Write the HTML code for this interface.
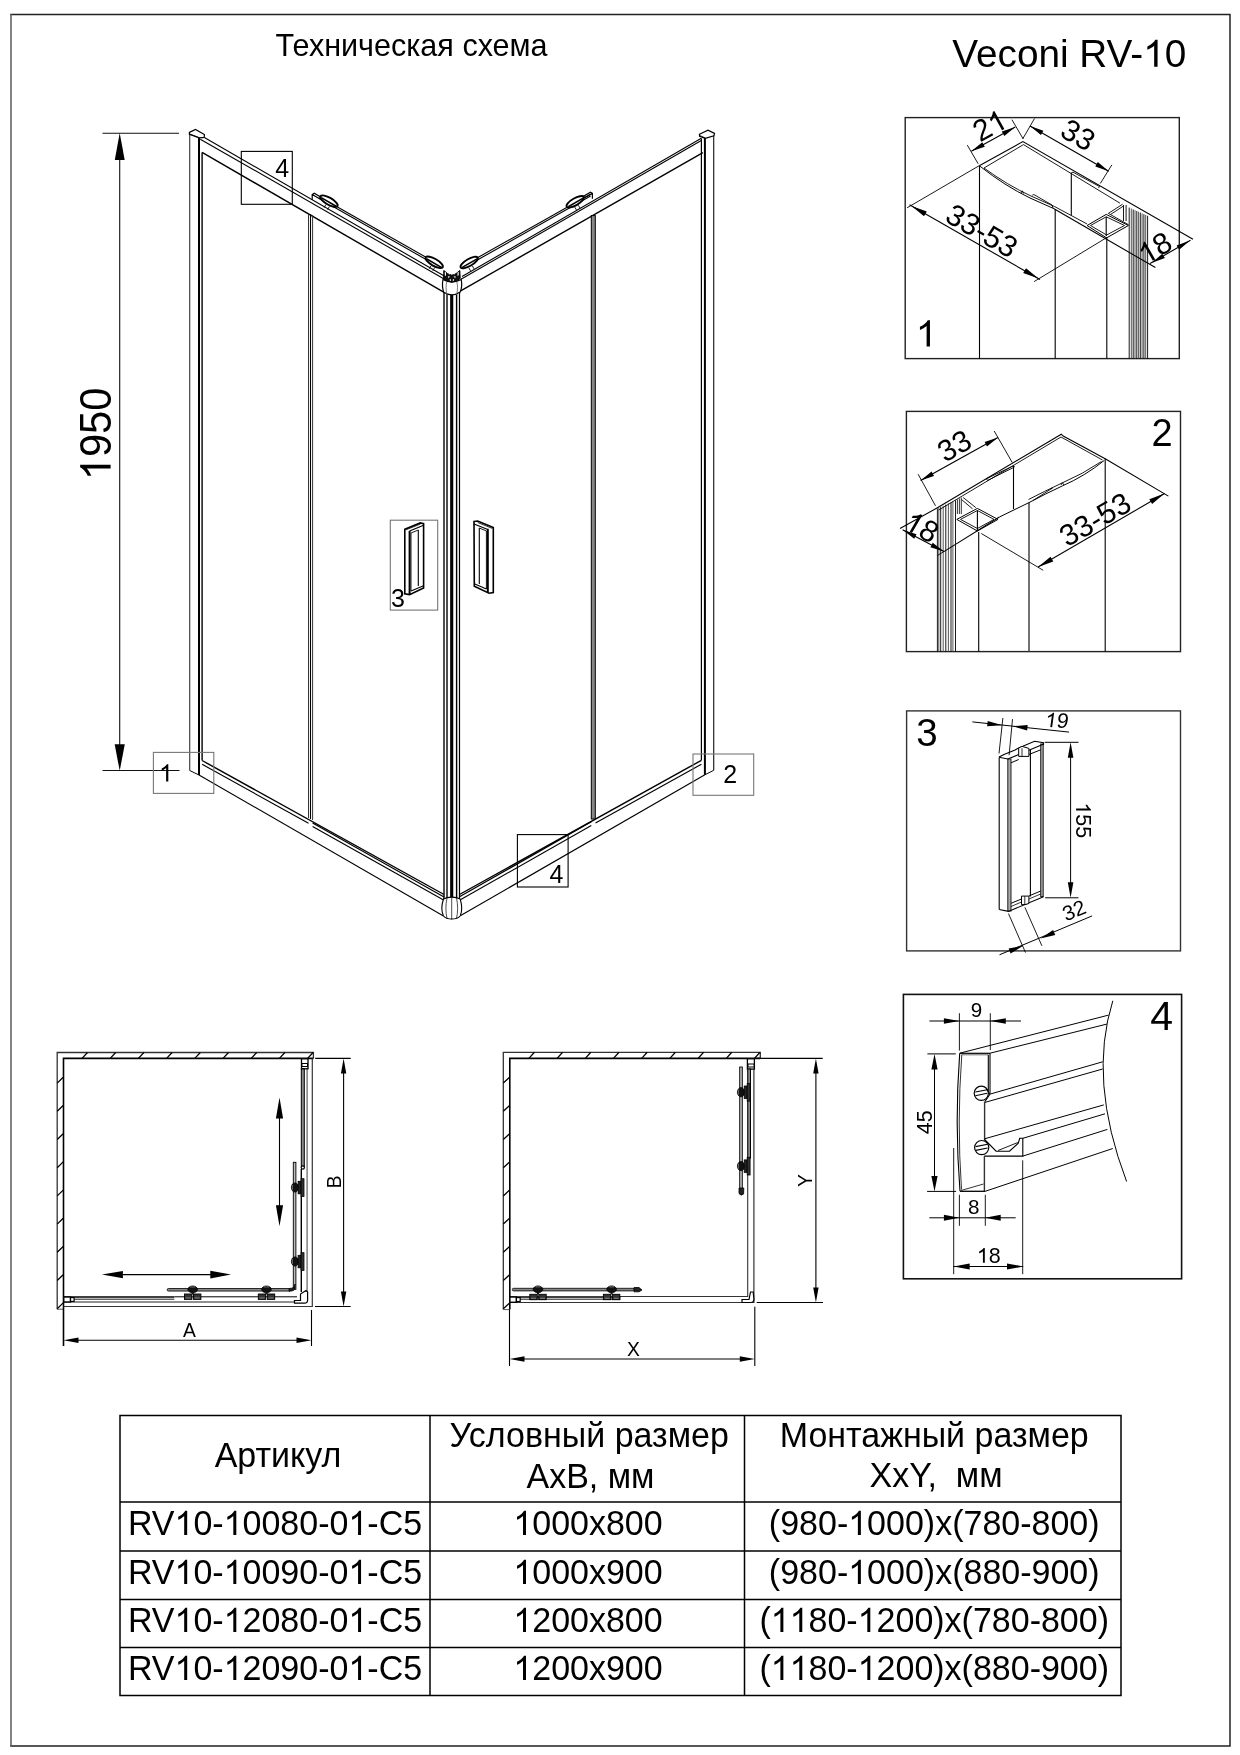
<!DOCTYPE html>
<html><head><meta charset="utf-8">
<style>
html,body{margin:0;padding:0;background:#fff;}
body{width:1240px;height:1755px;overflow:hidden;}
svg{display:block;will-change:transform;}
text{font-family:"Liberation Sans",sans-serif;fill:#000;}
</style></head><body>
<svg width="1240" height="1755" viewBox="0 0 1240 1755" fill="none" stroke="#000" stroke-width="1">
<!-- page border -->
<path d="M10.3,14.5 L1230.7,14.5 M1230,14 L1230,1746.5 M10.3,1746 L1230.7,1746" stroke="#222" stroke-width="1.5"/>
<path d="M11,14 L11,1746.5" stroke="#5a5a5a" stroke-width="1.5"/>
<!-- titles -->
<text transform="translate(275.6,56) scale(0.9555,1)" font-size="32" stroke="none" id="t1">Техническая схема</text>
<text transform="translate(952.3,66.8) scale(0.988,1)" font-size="39.2" stroke="none" id="t2">Veconi RV- 0</text>

<!-- MAIN DRAWING -->
<g id="dim1950" stroke="#111" stroke-width="1.1">
<line x1="102.5" y1="133.3" x2="179" y2="133.3"/>
<line x1="102.5" y1="770.5" x2="179.5" y2="770.5"/>
<line x1="119.7" y1="150" x2="119.7" y2="760"/>
<path d="M119.7,133 L114.8,160 L124.7,160 Z" fill="#000" stroke="none"/>
<path d="M119.7,770.8 L114.7,744.3 L124.8,744.3 Z" fill="#000" stroke="none"/>
</g>
<text transform="translate(110.6,480.3) rotate(-90) scale(0.942,1)" font-size="44.3" stroke="none"> 950</text>

<g id="posts" stroke="#000">
<!-- left post -->
<line x1="189.7" y1="133" x2="189.7" y2="770.5" stroke="#444" stroke-width="1.2"/>
<line x1="199" y1="137.5" x2="199" y2="775" stroke-width="2"/>
<line x1="202.1" y1="152.5" x2="202.1" y2="760.5" stroke-width="1.4"/>
<line x1="189.7" y1="770.5" x2="199" y2="775" stroke-width="1"/>
<path d="M189.4,132.4 L195.5,129.5 L204.4,134.6 L204.2,137.4 L199.4,137.9 L189.4,134.3 Z" stroke-width="1.2" fill="#fff"/>
<line x1="190" y1="134" x2="199.4" y2="137.9" stroke-width="0.8"/>
<!-- right post -->
<line x1="701.4" y1="138.5" x2="701.4" y2="760.3" stroke-width="1.2"/>
<line x1="704.9" y1="138" x2="704.9" y2="774.8" stroke-width="2"/>
<line x1="713.7" y1="135" x2="713.7" y2="770.3" stroke="#222" stroke-width="1.2"/>
<line x1="704.9" y1="774.8" x2="713.7" y2="770.3" stroke-width="1"/>
<path d="M699.4,134.2 L708,130.2 L714.5,133.4 L713.9,135.8 L705.3,138.4 L699.6,136.2 Z" stroke-width="1.2" fill="#fff"/>
<line x1="700" y1="135.6" x2="705.3" y2="138" stroke-width="0.8"/>
<!-- corner post -->
<line x1="444" y1="292" x2="444" y2="899" stroke="#222" stroke-width="1.6"/>
<line x1="447" y1="293" x2="447" y2="899" stroke="#222" stroke-width="1.6"/>
<line x1="451.7" y1="293" x2="451.7" y2="899" stroke-width="3.1"/>
<line x1="456.6" y1="293" x2="456.6" y2="899" stroke-width="1.4"/>
<line x1="459.5" y1="292" x2="459.5" y2="899" stroke-width="1.2"/>
</g>

<g id="rails" stroke="#000" stroke-width="1.1">
<!-- top-left rail -->
<line x1="204.4" y1="137.6" x2="446" y2="277"/>
<line x1="200.3" y1="139.2" x2="445" y2="279.5"/>
<line x1="202.1" y1="152.4" x2="443.7" y2="292.1" stroke-width="1.4"/>
<line x1="319" y1="196.4" x2="437" y2="263.5"/>
<line x1="319" y1="198.6" x2="437" y2="265.7"/>
<!-- top-right rail -->
<line x1="701.3" y1="138.3" x2="462" y2="276.6"/>
<line x1="701.3" y1="140.6" x2="461" y2="279.3"/>
<line x1="702.9" y1="152.7" x2="460.2" y2="291.1" stroke-width="1.4"/>
<line x1="590.6" y1="193.9" x2="468" y2="263.1"/>
<line x1="590.6" y1="196.1" x2="468" y2="265.3"/>
<!-- bottom-left rail -->
<line x1="202.1" y1="760.5" x2="444" y2="894.5" stroke-width="1.4"/>
<line x1="202.1" y1="764.3" x2="308.5" y2="823.2"/>
<line x1="312.6" y1="822.9" x2="444" y2="896.9" stroke-width="1.2"/>
<line x1="312.6" y1="826.5" x2="444" y2="900.3"/>
<line x1="199" y1="775" x2="443.5" y2="916"/>
<!-- bottom-right rail -->
<line x1="701.4" y1="760.3" x2="459.5" y2="894.5" stroke-width="1.4"/>
<line x1="701.4" y1="764.3" x2="595.5" y2="823"/>
<line x1="591.3" y1="821.8" x2="459.5" y2="896.8" stroke-width="1.2"/>
<line x1="591.3" y1="825.6" x2="459.5" y2="900.3"/>
<line x1="704.9" y1="774.8" x2="460.7" y2="915.5"/>
</g>

<g id="doors" stroke="#000">
<line x1="308.5" y1="214" x2="308.5" y2="818" stroke="#333" stroke-width="1"/>
<line x1="310.5" y1="214" x2="310.5" y2="819" stroke-width="1.1"/>
<line x1="312.6" y1="215" x2="312.6" y2="820" stroke="#333" stroke-width="1"/>
<rect x="591.3" y="215.6" width="4" height="603.4" fill="#888" stroke-width="1"/>
</g>

<g id="rollers" stroke="#000" stroke-width="1.9" fill="#fff">
<!-- brackets -->
<path d="M312.2,199.8 L312.2,194.6 L314.2,193.3 L321.2,197.3 M312.2,194.6 L319.2,198.6 L321.2,197.3" stroke-width="1.2" fill="none"/>
<path d="M592.4,198.8 L592.4,193.4 L590.4,192.2 L583.4,196.2 M592.4,193.4 L585.4,197.4 L583.4,196.2" stroke-width="1.2" fill="none"/>
<g transform="translate(329,201.2) rotate(30)"><ellipse rx="9.8" ry="3.5"/><line x1="-8.5" y1="0.8" x2="9.2" y2="0.8" stroke-width="1.5"/><line x1="-1" y1="4.6" x2="-1" y2="8" stroke-width="0.8"/><line x1="3" y1="4.4" x2="3" y2="8" stroke-width="0.8"/></g>
<g transform="translate(434.2,262.3) rotate(30)"><ellipse rx="9.8" ry="3.5"/><line x1="-8.5" y1="0.8" x2="9.2" y2="0.8" stroke-width="1.5"/><line x1="-1" y1="4.6" x2="-1" y2="8" stroke-width="0.8"/><line x1="3" y1="4.4" x2="3" y2="8" stroke-width="0.8"/></g>
<g transform="translate(469.2,262.5) rotate(-30)"><ellipse rx="9.8" ry="3.5"/><line x1="-8.5" y1="0.8" x2="9.2" y2="0.8" stroke-width="1.5"/><line x1="1" y1="4.6" x2="1" y2="8" stroke-width="0.8"/><line x1="-3" y1="4.4" x2="-3" y2="8" stroke-width="0.8"/></g>
<g transform="translate(575.2,201.8) rotate(-30)"><ellipse rx="9.8" ry="3.5"/><line x1="-8.5" y1="0.8" x2="9.2" y2="0.8" stroke-width="1.5"/><line x1="1" y1="4.6" x2="1" y2="8" stroke-width="0.8"/><line x1="-3" y1="4.4" x2="-3" y2="8" stroke-width="0.8"/></g>
</g>

<g id="cornercaps" stroke="#000" stroke-width="1.1" fill="#fff">
<!-- top corner junction -->
<path d="M443.7,292.2 C442.2,288 442.2,283.5 443,279.5 Q451.5,284.5 461.2,279.5 C462,283.5 462,288 460.2,292 Q451.8,297.5 443.7,292.2 Z" stroke-width="1.2"/>
<path d="M447,295 C445.8,290 445.8,285 446.8,281.5 M456.5,295 C457.8,290 457.8,285 456.8,281.5" stroke-width="0.8" stroke="#555"/>
<path d="M443.8,270.5 Q447.5,274.5 451.8,275.2 Q456,274.5 459.8,270.5 L460.2,278.5 Q456,281.8 451.8,282.3 Q447.5,281.8 443.6,278.5 Z" fill="#111" stroke="#000" stroke-width="1"/>
<path d="M448.9,272.9 l1.3,0.5 l-0.3,1.2 l-1.2,-0.5 Z M453.4,273.4 l1.3,-0.5 l0.3,1.2 l-1.3,0.5 Z M448.2,276 l1.8,0.8 l-1.8,1.5 Z M455.4,276 l-1.8,0.8 l1.8,1.5 Z M449.8,279 l1.2,0.6 l0,1.5 l-1.2,-0.5 Z M452.8,279.6 l1.2,-0.6 l0,1.6 l-1.2,0.5 Z M457.5,272.5 l1.2,-0.7 l0,3.5 l-1.2,0.6 Z M444.8,271.8 l1.2,0.7 l0,3.4 l-1.2,-0.6 Z" fill="#fff" stroke="none"/>
<!-- bottom foot -->
<path d="M443.5,899 C441.5,905 441.5,912 443.5,916 C447,920 456.5,920 460.2,916 C462,912 462,905 460.2,899 C456,896.5 447.5,896.5 443.5,899 Z"/>
<path d="M447,898 C445.5,905 445.5,912 447,918.5 M451.7,898 L451.7,919.5 M456.5,898 C458,905 458,912 456.5,918.5" stroke-width="0.7"/>
</g>

<g id="handles" stroke="#000" fill="#fff">
<!-- left handle -->
<path d="M404.8,529.2 L420.3,522.9 L423.6,523.6 L423.6,588 L409.6,594.6 L404.8,593.9 Z" stroke-width="1.6"/>
<line x1="409.6" y1="531" x2="409.6" y2="594.4" stroke-width="2"/>
<line x1="411" y1="533" x2="411" y2="591" stroke-width="0.9"/>
<line x1="418.3" y1="530" x2="418.3" y2="586" stroke-width="1.1"/>
<line x1="409.6" y1="531" x2="423.6" y2="525.3" stroke-width="1.2"/>
<line x1="406" y1="529.8" x2="420.5" y2="524" stroke-width="0.8"/>
<line x1="411" y1="533" x2="418.3" y2="530" stroke-width="0.9"/>
<line x1="411" y1="591" x2="423.6" y2="585.8" stroke-width="1.1"/>
<!-- right handle -->
<path d="M474,521.5 L477.7,521 L493.3,527.6 L493.3,592.6 L489,593.2 L474.3,586.3 Z" stroke-width="1.6"/>
<line x1="487.8" y1="528.8" x2="487.8" y2="592.5" stroke-width="2"/>
<line x1="486.4" y1="531" x2="486.4" y2="589" stroke-width="0.9"/>
<line x1="479.3" y1="528" x2="479.3" y2="584" stroke-width="1.1"/>
<line x1="474" y1="524" x2="487.8" y2="529.5" stroke-width="1.2"/>
<line x1="477.7" y1="522.5" x2="492.5" y2="528.5" stroke-width="0.8"/>
<line x1="479.3" y1="528" x2="486.4" y2="531" stroke-width="0.9"/>
<line x1="474.3" y1="583.8" x2="486.4" y2="589" stroke-width="1.1"/>
</g>

<g id="labels" stroke-width="1.1" fill="none">
<rect x="241.3" y="151.4" width="51" height="52.9" stroke="#000"/>
<rect x="390.3" y="520.2" width="47.4" height="89.9" stroke="#777"/>
<rect x="153.4" y="752.4" width="60.4" height="41" stroke="#777"/>
<rect x="693" y="754" width="60.7" height="41.3" stroke="#777"/>
<rect x="517.4" y="834.6" width="50.7" height="52.4" stroke="#000"/>
</g>
<g font-size="25" stroke="none">
<text x="275.3" y="176.8">4</text>
<text x="391" y="606.8">3</text>
<text x="159" y="781.5"> </text>
<text x="723.2" y="782.9">2</text>
<text x="549.5" y="882.5">4</text>
</g>

<!-- PLAN VIEW 1 -->
<g id="plan1">
<path d="M57.2,1309.2 L57.2,1052.5 L313.4,1052.5 L313.4,1058.4" stroke="#333" stroke-width="1.3"/>
<path d="M57.2,1309.2 L63.5,1309.2" stroke="#555" stroke-width="1"/>
<path d="M63.5,1346 L63.5,1058.4 L313.4,1058.4" stroke="#000" stroke-width="1.6"/>
<path stroke="#000" stroke-width="1.3" d="M82,1058.4 l5.5,-5.9 M110.2,1058.4 l5.5,-5.9 M138.4,1058.4 l5.5,-5.9 M166.6,1058.4 l5.5,-5.9 M194.8,1058.4 l5.5,-5.9 M223,1058.4 l5.5,-5.9 M251.2,1058.4 l5.5,-5.9 M279.4,1058.4 l5.5,-5.9 M307.6,1058.4 l5.5,-5.9
M57.2,1083.1 l6,-5.8 M57.2,1111.3 l6,-5.8 M57.2,1139.5 l6,-5.8 M57.2,1167.7 l6,-5.8 M57.2,1195.9 l6,-5.8 M57.2,1224.1 l6,-5.8 M57.2,1252.3 l6,-5.8 M57.2,1280.5 l6,-5.8 M57.2,1308.7 l6,-5.8"/>
<!-- interior frame -->
<path d="M63.5,1306.5 L312.3,1306.5 L312.3,1058.4" stroke="#333" stroke-width="1.2"/>
<line x1="307.1" y1="1069" x2="307.1" y2="1302" stroke="#777" stroke-width="1.4"/>
<line x1="63.8" y1="1302" x2="300" y2="1302" stroke="#222" stroke-width="1.1"/>
<!-- fixed right panel -->
<rect x="301.5" y="1058.8" width="6.5" height="10" stroke="#000" stroke-width="1.3" fill="#fff"/>
<rect x="302" y="1063.5" width="5.5" height="3" stroke="#000" stroke-width="1" fill="#fff"/>
<rect x="301.3" y="1069" width="3" height="98" stroke="#000" stroke-width="1" fill="#888"/>
<circle cx="302.8" cy="1167.5" r="1.6" fill="#fff" stroke="#000" stroke-width="1.2"/>
<line x1="301.3" y1="1169" x2="301.3" y2="1292" stroke="#000" stroke-width="1.4"/>
<!-- sliding right panel -->
<rect x="293.3" y="1162.3" width="2.6" height="127" stroke="#000" stroke-width="0.9" fill="#bbb"/>
<g><ellipse cx="295" cy="1187.5" rx="3.6" ry="4.6" fill="#111" stroke="#000" stroke-width="0.8"/><line x1="292.4" y1="1185.0" x2="292.4" y2="1190.0" stroke="#aaa" stroke-width="0.6"/><rect x="298.1" y="1181.3" width="3" height="12.5" fill="#222" stroke="#000" stroke-width="0.8"/><rect x="301.1" y="1178.7" width="2.9" height="17.7" fill="#333" stroke="#000" stroke-width="0.8"/><ellipse cx="295" cy="1261.5" rx="3.6" ry="4.6" fill="#111" stroke="#000" stroke-width="0.8"/><line x1="292.4" y1="1259.0" x2="292.4" y2="1264.0" stroke="#aaa" stroke-width="0.6"/><rect x="298.1" y="1255.3" width="3" height="12.5" fill="#222" stroke="#000" stroke-width="0.8"/><rect x="301.1" y="1252.7" width="2.9" height="17.7" fill="#333" stroke="#000" stroke-width="0.8"/></g>
<!-- fixed bottom panel -->
<line x1="63.8" y1="1297" x2="174.3" y2="1297" stroke="#000" stroke-width="1.7"/>
<line x1="74" y1="1299.2" x2="174.3" y2="1299.2" stroke="#000" stroke-width="0.9"/>
<rect x="63.8" y="1297" width="6.7" height="5" stroke="#000" stroke-width="1.4" fill="#fff"/>
<rect x="70.5" y="1297.6" width="3.6" height="3.8" stroke="#000" stroke-width="1.2" fill="#fff"/>
<line x1="174.3" y1="1296.8" x2="297" y2="1296.8" stroke="#000" stroke-width="1"/>
<!-- sliding bottom panel -->
<rect x="167.2" y="1288.5" width="123" height="2.6" stroke="#000" stroke-width="0.8" fill="#888" rx="1.2"/>
<path d="M289,1288.5 Q295,1288.5 295,1284 L295,1288 Q295,1291.2 289,1291.2 Z" fill="#222" stroke="#000" stroke-width="0.8"/>
<g><ellipse cx="192.7" cy="1289.4" rx="4.8" ry="3.4" fill="#111" stroke="#000" stroke-width="0.8"/><line x1="190.2" y1="1287.0" x2="195.2" y2="1287.0" stroke="#aaa" stroke-width="0.6"/><rect x="191.7" y="1292.4" width="2" height="2" fill="#111" stroke="none"/><rect x="184.5" y="1294" width="7.4" height="5.4" fill="#333" stroke="#000" stroke-width="0.9"/><rect x="193.5" y="1294" width="7.4" height="5.4" fill="#333" stroke="#000" stroke-width="0.9"/><line x1="185.7" y1="1298" x2="190.7" y2="1298" stroke="#999" stroke-width="0.8"/><line x1="194.7" y1="1298" x2="199.7" y2="1298" stroke="#999" stroke-width="0.8"/><ellipse cx="266.5" cy="1289.4" rx="4.8" ry="3.4" fill="#111" stroke="#000" stroke-width="0.8"/><line x1="264.0" y1="1287.0" x2="269.0" y2="1287.0" stroke="#aaa" stroke-width="0.6"/><rect x="265.5" y="1292.4" width="2" height="2" fill="#111" stroke="none"/><rect x="258.3" y="1294" width="7.4" height="5.4" fill="#333" stroke="#000" stroke-width="0.9"/><rect x="267.3" y="1294" width="7.4" height="5.4" fill="#333" stroke="#000" stroke-width="0.9"/><line x1="259.5" y1="1298" x2="264.5" y2="1298" stroke="#999" stroke-width="0.8"/><line x1="268.5" y1="1298" x2="273.5" y2="1298" stroke="#999" stroke-width="0.8"/></g>
<!-- corner piece -->
<path d="M294.5,1303.2 L294.5,1300.5 L300.5,1300.5 L300.5,1294 L306,1290.5 L307.6,1292 L307.6,1300 Q307.6,1303.2 304.5,1303.2 Z" stroke="#000" stroke-width="1.2" fill="#fff"/>
<!-- direction arrows -->
<g stroke="#000" stroke-width="1.1">
<line x1="115" y1="1274.6" x2="218" y2="1274.6"/>
<line x1="279.5" y1="1110" x2="279.5" y2="1212"/>
</g>
<path d="M101.9,1274.6 L122.9,1270.9 L122.9,1278.3 Z M231,1274.6 L210.3,1270.7 L210.3,1278.5 Z M279.5,1097.4 L275.9,1118.4 L283.1,1118.4 Z M279.5,1226.2 L275.9,1205.2 L283.1,1205.2 Z" fill="#000" stroke="none"/>
<!-- dimensions -->
<g stroke="#000" stroke-width="1.1">
<line x1="315.2" y1="1058.4" x2="350.7" y2="1058.4"/>
<line x1="315" y1="1306.5" x2="350.7" y2="1306.5"/>
<line x1="343.6" y1="1065" x2="343.6" y2="1300"/>
<line x1="311.5" y1="1310" x2="311.5" y2="1346"/>
<line x1="70" y1="1340.2" x2="305" y2="1340.2"/>
</g>
<path d="M343.6,1058.4 L340.9,1073.4 L346.3,1073.4 Z M343.6,1306.5 L340.9,1291.5 L346.3,1291.5 Z M63.5,1340.2 L78.5,1337.5 L78.5,1342.9 Z M311.5,1340.2 L296.5,1337.5 L296.5,1342.9 Z" fill="#000" stroke="none"/>
<text x="189.5" y="1336.7" font-size="19.3" text-anchor="middle" stroke="none">A</text>
<text transform="translate(340.9,1188.2) rotate(-90)" font-size="19.3" stroke="none">B</text>
</g>

<!-- PLAN VIEW 2 -->
<g id="plan2">
<path d="M503.3,1309.6 L503.3,1052.3 L760.3,1052.3 L760.3,1058.4" stroke="#333" stroke-width="1.3"/>
<path d="M503.3,1309.6 L509.8,1309.6" stroke="#555" stroke-width="1"/>
<path d="M509.8,1309.6 L509.8,1058.4 L760.3,1058.4" stroke="#000" stroke-width="1.6"/>
<path stroke="#000" stroke-width="1.3" d="M528.9,1058.4 l5.5,-6.1 M557.1,1058.4 l5.5,-6.1 M585.3,1058.4 l5.5,-6.1 M613.5,1058.4 l5.5,-6.1 M641.7,1058.4 l5.5,-6.1 M669.9,1058.4 l5.5,-6.1 M698.1,1058.4 l5.5,-6.1 M726.3,1058.4 l5.5,-6.1 M754.5,1058.4 l5.5,-6.1
M503.3,1083.1 l6.3,-5.8 M503.3,1111.3 l6.3,-5.8 M503.3,1139.5 l6.3,-5.8 M503.3,1167.7 l6.3,-5.8 M503.3,1195.9 l6.3,-5.8 M503.3,1224.1 l6.3,-5.8 M503.3,1252.3 l6.3,-5.8 M503.3,1280.5 l6.3,-5.8 M503.3,1308.7 l6.3,-5.8"/>
<path d="M509.8,1302.5 L753.9,1302.5 L753.9,1058.4" stroke="#333" stroke-width="1.2"/>
<line x1="620" y1="1296.5" x2="748" y2="1296.5" stroke="#333" stroke-width="1"/>
<line x1="747.7" y1="1157" x2="747.7" y2="1297" stroke="#333" stroke-width="1.1"/>
<!-- fixed right panel -->
<rect x="747.4" y="1058.8" width="7" height="10.3" stroke="#000" stroke-width="1.3" fill="#fff"/>
<rect x="748" y="1064" width="6" height="3" stroke="#000" stroke-width="1" fill="#fff"/>
<rect x="747.7" y="1069" width="2.8" height="89" stroke="#000" stroke-width="1" fill="#888"/>
<!-- sliding right panel -->
<rect x="739.7" y="1067" width="2.6" height="122" stroke="#000" stroke-width="0.9" fill="#bbb"/>
<path d="M739,1188 L743.8,1188 L743.6,1194 Q741,1196.5 739,1193.5 Z" fill="#222" stroke="#000" stroke-width="0.8"/>
<g><ellipse cx="741" cy="1092.2" rx="3.6" ry="4.6" fill="#111" stroke="#000" stroke-width="0.8"/><line x1="738.4" y1="1089.7" x2="738.4" y2="1094.7" stroke="#aaa" stroke-width="0.6"/><rect x="744.2" y="1086.0" width="3" height="12.5" fill="#222" stroke="#000" stroke-width="0.8"/><rect x="747.2" y="1083.4" width="2.9" height="17.7" fill="#333" stroke="#000" stroke-width="0.8"/><ellipse cx="741" cy="1166.1" rx="3.6" ry="4.6" fill="#111" stroke="#000" stroke-width="0.8"/><line x1="738.4" y1="1163.6" x2="738.4" y2="1168.6" stroke="#aaa" stroke-width="0.6"/><rect x="744.2" y="1159.8999999999999" width="3" height="12.5" fill="#222" stroke="#000" stroke-width="0.8"/><rect x="747.2" y="1157.3" width="2.9" height="17.7" fill="#333" stroke="#000" stroke-width="0.8"/></g>
<!-- fixed bottom panel -->
<line x1="509.9" y1="1297" x2="620.5" y2="1297" stroke="#000" stroke-width="1.7"/>
<line x1="520" y1="1299.2" x2="620.5" y2="1299.2" stroke="#000" stroke-width="0.9"/>
<rect x="509.9" y="1297" width="6.5" height="5.3" stroke="#000" stroke-width="1.4" fill="#fff"/>
<rect x="516.4" y="1297.6" width="3.8" height="3.9" stroke="#000" stroke-width="1.2" fill="#fff"/>
<!-- sliding bottom panel -->
<rect x="512.3" y="1288.3" width="122" height="2.6" stroke="#000" stroke-width="0.8" fill="#888" rx="1.2"/>
<path d="M634,1287.5 L639,1287.5 L642,1290 L639,1291.8 L634,1291.8 Z" fill="#222" stroke="#000" stroke-width="0.8"/>
<g><ellipse cx="538" cy="1289.3" rx="4.8" ry="3.4" fill="#111" stroke="#000" stroke-width="0.8"/><line x1="535.5" y1="1286.8999999999999" x2="540.5" y2="1286.8999999999999" stroke="#aaa" stroke-width="0.6"/><rect x="537" y="1292.3" width="2" height="2" fill="#111" stroke="none"/><rect x="529.8" y="1294.3" width="7.4" height="5.4" fill="#333" stroke="#000" stroke-width="0.9"/><rect x="538.8" y="1294.3" width="7.4" height="5.4" fill="#333" stroke="#000" stroke-width="0.9"/><line x1="531" y1="1298.3" x2="536" y2="1298.3" stroke="#999" stroke-width="0.8"/><line x1="540" y1="1298.3" x2="545" y2="1298.3" stroke="#999" stroke-width="0.8"/><ellipse cx="611.6" cy="1289.3" rx="4.8" ry="3.4" fill="#111" stroke="#000" stroke-width="0.8"/><line x1="609.1" y1="1286.8999999999999" x2="614.1" y2="1286.8999999999999" stroke="#aaa" stroke-width="0.6"/><rect x="610.6" y="1292.3" width="2" height="2" fill="#111" stroke="none"/><rect x="603.4" y="1294.3" width="7.4" height="5.4" fill="#333" stroke="#000" stroke-width="0.9"/><rect x="612.4" y="1294.3" width="7.4" height="5.4" fill="#333" stroke="#000" stroke-width="0.9"/><line x1="604.6" y1="1298.3" x2="609.6" y2="1298.3" stroke="#999" stroke-width="0.8"/><line x1="613.6" y1="1298.3" x2="618.6" y2="1298.3" stroke="#999" stroke-width="0.8"/></g>
<path d="M742,1302.5 L742,1299.5 L749,1299.5 L750.5,1292 L753.2,1292 L753.9,1299 Q753.9,1302.5 751,1302.5 Z" stroke="#000" stroke-width="1.2" fill="#fff"/>
<!-- dimensions -->
<g stroke="#000" stroke-width="1.1">
<line x1="755.6" y1="1058.4" x2="822.7" y2="1058.4"/>
<line x1="756.7" y1="1302.5" x2="823" y2="1302.5"/>
<line x1="815.9" y1="1065" x2="815.9" y2="1296"/>
<line x1="509.5" y1="1309.6" x2="509.5" y2="1366"/>
<line x1="754.8" y1="1306.7" x2="754.8" y2="1366"/>
<line x1="516" y1="1359" x2="748" y2="1359"/>
</g>
<path d="M815.9,1058.4 L813.2,1073.4 L818.6,1073.4 Z M815.9,1302.5 L813.2,1287.5 L818.6,1287.5 Z M509.5,1359 L524.5,1356.3 L524.5,1361.7 Z M754.8,1359 L739.8,1356.3 L739.8,1361.7 Z" fill="#000" stroke="none"/>
<text x="633.4" y="1355.6" font-size="19.3" text-anchor="middle" stroke="none">X</text>
<text transform="translate(811.8,1187) rotate(-90)" font-size="19.3" stroke="none">Y</text>
</g>

<!-- D1 -->
<g id="detail1" stroke="#000" stroke-width="1.1">
<rect x="905.2" y="117.6" width="274.1" height="241" stroke="#222" stroke-width="1.4"/>
<line x1="979.5" y1="165.5" x2="979.5" y2="358.6"/>
<line x1="1055.2" y1="209.2" x2="1055.2" y2="358.6"/>
<line x1="1106.8" y1="237.0" x2="1106.8" y2="358.6"/>
<line x1="1071.3" y1="172.8" x2="1071.3" y2="215.4"/>
<line x1="1123.5" y1="205.0" x2="1123.5" y2="221.0" stroke-width="0.9"/>
<line x1="1126.1" y1="205.0" x2="1126.1" y2="221.0" stroke-width="0.9"/>
<line x1="1129.2" y1="207.6" x2="1129.2" y2="358.6" stroke-width="0.9"/>
<line x1="1131.3" y1="208.5" x2="1131.3" y2="358.6" stroke-width="0.9" stroke="#444"/>
<line x1="1133.2" y1="209.4" x2="1133.2" y2="358.6" stroke-width="0.9"/>
<line x1="1135.0" y1="210.2" x2="1135.0" y2="358.6" stroke-width="0.9" stroke="#444"/>
<line x1="1136.8" y1="211.0" x2="1136.8" y2="358.6" stroke-width="0.9"/>
<line x1="1138.6" y1="211.8" x2="1138.6" y2="358.6" stroke-width="0.9" stroke="#444"/>
<line x1="1140.3" y1="212.6" x2="1140.3" y2="358.6" stroke-width="0.9"/>
<line x1="1142.1" y1="213.4" x2="1142.1" y2="358.6" stroke-width="0.9" stroke="#444"/>
<line x1="1143.9" y1="214.2" x2="1143.9" y2="358.6" stroke-width="0.9"/>
<line x1="1145.7" y1="215.0" x2="1145.7" y2="358.6" stroke-width="0.9" stroke="#444"/>
<line x1="1147.6" y1="215.8" x2="1147.6" y2="358.6" stroke-width="0.9"/>
<path d="M979.7,165.5 L1022.9,141.6 L1193,239.3" />
<path d="M984,168 L1023.5,144.6 L1120,203.2" stroke-width="0.9"/>
<path d="M979.7,166 Q1005,186 1030,198 L1054,208.7" stroke-width="1"/>
<path d="M984,168 Q1008,185.5 1031,196 L1054.5,206.5" stroke-width="0.9"/>
<path d="M1021,193 L1022.3,190.8 L1023.6,193.5" stroke-width="0.9"/>
<path d="M1032.3,195.2 L1033.8,194.5 L1052,205 L1053,208" stroke-width="0.9"/>
<line x1="1054.0" y1="208.7" x2="1155.4" y2="267.6"/>
<line x1="1054.5" y1="206.5" x2="1087.1" y2="224.0" stroke-width="0.9"/>
<path d="M1071.3,172.8 L1073,172.2 L1099.5,186.5 L1098.5,188"  stroke-width="0.9"/>
<path d="M1087.1,225.5 L1106.2,214.4 L1128.4,225.5 L1106.6,237.9 Z" stroke-width="1"/>
<path d="M1090.5,225.5 L1106.2,216.8 L1124.5,225.5 L1106.6,235 Z" stroke-width="0.9"/>
<line x1="1106.2" y1="216.8" x2="1106.2" y2="236.0"/>
<path d="M1108.4,213.4 L1122.6,204.2 M1110.5,214.5 L1123.5,206 M1108.4,213.4 L1128.6,224.8" stroke-width="0.9"/>
<line x1="967.3" y1="145.1" x2="978.1" y2="163.7" stroke-width="0.9"/>
<line x1="1011.9" y1="119.7" x2="1023.2" y2="138.9" stroke-width="0.9"/>
<line x1="971.3" y1="151.3" x2="1015.3" y2="127.0"/>
<line x1="1034.5" y1="118.5" x2="1022.7" y2="138.9" stroke-width="0.9"/>
<line x1="1111.9" y1="164.8" x2="1100.3" y2="183.5" stroke-width="0.9"/>
<line x1="1030.0" y1="125.9" x2="1108.7" y2="171.3"/>
<line x1="979.5" y1="165.5" x2="907.1" y2="207.8" stroke-width="0.9"/>
<line x1="1106.7" y1="237.6" x2="1034.1" y2="281.6" stroke-width="0.9"/>
<line x1="909.5" y1="204.8" x2="1040.0" y2="279.5"/>
<line x1="1150.0" y1="263.6" x2="1190.5" y2="240.2"/>
<path d="M971.3,151.3 L984.8,146.7 L982.3,142.3 Z M1015.3,127.0 L1001.8,131.6 L1004.3,136.0 Z M1030.0,125.9 L1040.9,135.1 L1043.4,130.7 Z M1108.7,171.3 L1097.8,162.1 L1095.3,166.5 Z M911.5,206.0 L924.0,216.3 L926.8,211.6 Z M1038.5,278.6 L1026.0,268.3 L1023.2,273.0 Z M1151.5,263.0 L1164.9,258.1 L1162.3,253.8 Z M1190.0,240.6 L1176.6,245.5 L1179.2,249.8 Z" fill="#000" stroke="none"/>
</g>
<g stroke="none" font-size="30">
<text transform="translate(980,142.5) rotate(-29)">2 </text>
<text transform="translate(1058.5,135.5) rotate(30)">33</text>
<text transform="translate(943.5,220.5) rotate(30)">33-53</text>
<text transform="translate(1145.5,265) rotate(-30)"> 8</text>
<text x="915.8" y="346.5" font-size="38"> </text>
</g>
<!-- /D1 -->
<!-- D2 -->
<g id="detail2" stroke="#000" stroke-width="1.1">
<rect x="906.4" y="411.4" width="274.1" height="240.2" stroke="#222" stroke-width="1.4"/>
<line x1="978.7" y1="532.0" x2="978.7" y2="651.6"/>
<line x1="1029.0" y1="502.6" x2="1029.0" y2="651.6" stroke="#444" stroke-width="1.5"/>
<line x1="1105.2" y1="458.7" x2="1105.2" y2="651.6"/>
<line x1="1013.5" y1="466.0" x2="1013.5" y2="509.0"/>
<line x1="937.4" y1="508.4" x2="937.4" y2="651.6" stroke-width="0.9"/>
<line x1="938.8" y1="507.8" x2="938.8" y2="651.6" stroke-width="0.9" stroke="#444"/>
<line x1="940.7" y1="506.9" x2="940.7" y2="651.6" stroke-width="0.9"/>
<line x1="943.2" y1="505.8" x2="943.2" y2="651.6" stroke-width="0.9" stroke="#444"/>
<line x1="945.8" y1="504.6" x2="945.8" y2="651.6" stroke-width="0.9"/>
<line x1="948.4" y1="503.4" x2="948.4" y2="651.6" stroke-width="0.9" stroke="#444"/>
<line x1="951.0" y1="502.3" x2="951.0" y2="651.6" stroke-width="0.9"/>
<line x1="952.9" y1="501.4" x2="952.9" y2="651.6" stroke-width="0.9" stroke="#444"/>
<line x1="955.5" y1="500.3" x2="955.5" y2="651.6" stroke-width="0.9"/>
<line x1="957.4" y1="499.4" x2="957.4" y2="514.0" stroke-width="0.8"/>
<line x1="959.4" y1="498.5" x2="959.4" y2="514.0" stroke-width="0.8"/>
<line x1="961.3" y1="497.6" x2="961.3" y2="514.0" stroke-width="0.8"/>
<path d="M900,528.6 L937.4,507.8 L1061.3,434.2 L1063.2,436.1 L1105.2,458.7 L1168.4,496.1"/>
<path d="M938.8,510 L1061,437 L1102.5,460" stroke-width="0.9"/>
<path d="M1104.2,460.5 Q1085,476 1062.6,485.8 Q1045,494 1029,502.6 L999.4,517" stroke-width="1"/>
<path d="M1101.5,461.5 Q1083,474 1061,483.5 Q1044,491.5 1028.5,499.5" stroke-width="0.9"/>
<path d="M1061,485 L1062.3,482.6 L1064,485" stroke-width="0.9"/>
<path d="M1051,488.5 L1052.5,488 L1033,500.5" stroke-width="0.9"/>
<line x1="999.4" y1="517.0" x2="943.9" y2="551.6"/>
<line x1="937.4" y1="555.5" x2="943.9" y2="551.6" stroke-width="0.9"/>
<path d="M986.5,478.7 L1013.5,465.8 L1014.8,467" stroke-width="0.9"/>
<path d="M986.5,478.7 L987.5,480.5 L1013.5,467.5" stroke-width="0.9"/>
<path d="M956.8,519.4 L977.4,508.4 L998,519.4 L977.4,531 Z" stroke-width="1"/>
<path d="M960.5,519.4 L977.4,510.5 L994,519.4 L977.4,528.5 Z" stroke-width="0.9"/>
<line x1="977.4" y1="510.5" x2="977.4" y2="530.0"/>
<path d="M963.2,497.5 L975.8,507.6 M961.5,499.5 L972.5,508.8" stroke-width="0.9"/>
<line x1="981.3" y1="533.5" x2="1043.2" y2="570.3" stroke-width="0.9"/>
<line x1="918.1" y1="474.2" x2="935.5" y2="505.8" stroke-width="0.9"/>
<line x1="994.2" y1="431.0" x2="1012.3" y2="462.6" stroke-width="0.9"/>
<line x1="920.6" y1="480.6" x2="998.0" y2="437.4"/>
<line x1="902.6" y1="529.7" x2="943.9" y2="551.6"/>
<line x1="1038.1" y1="567.1" x2="1164.5" y2="493.5"/>
<path d="M920.6,480.6 L934.0,476.0 L931.6,471.6 Z M998.0,437.4 L984.6,442.0 L987.0,446.4 Z M903.0,530.0 L914.2,538.7 L916.5,534.3 Z M943.9,551.6 L932.7,542.8 L930.4,547.3 Z M1038.1,567.1 L1053.3,561.4 L1050.5,556.7 Z M1164.5,493.5 L1149.3,499.2 L1152.1,503.9 Z" fill="#000" stroke="none"/>
</g>
<g stroke="none" font-size="30">
<text transform="translate(945,463) rotate(-30)">33</text>
<text transform="translate(902.3,527.5) rotate(30)"> 8</text>
<text transform="translate(1067,547.5) rotate(-30)">33-53</text>
<text x="1151.5" y="446" font-size="38">2</text>
</g>
<!-- /D2 -->
<!-- D3 -->
<g id="detail3" stroke="#000" stroke-width="1.1">
<rect x="906.6" y="710.9" width="273.9" height="240" stroke="#333" stroke-width="1.4"/>
<line x1="999.2" y1="757.5" x2="999.2" y2="909.5"/>
<rect x="1007.8" y="759" width="3.2" height="152" fill="#aaa" stroke="#222" stroke-width="1"/>
<line x1="1030.4" y1="750.0" x2="1030.4" y2="896.5"/>
<rect x="1040.7" y="744" width="2.5" height="152.5" fill="#aaa" stroke="#222" stroke-width="1"/>
<path d="M999,757 L1004,754.5 L1015,750 L1018.7,748 L1034.5,741.2 L1043.5,742.8 L1043.5,745" fill="none"/>
<path d="M999,757.3 L1007.8,759 L1018.7,754.5 M1028.9,750.3 L1043.2,744.3" />
<path d="M1011,762.8 L1018.7,759.5 M1028.9,754.5 L1040.7,749.8" stroke-width="1"/>
<path d="M1018.7,747.9 L1022,746.4 L1028.9,748.4 L1028.9,756.4 L1018.7,756.4 Z" fill="#fff" stroke-width="1"/>
<line x1="1022.0" y1="748.2" x2="1022.0" y2="756.4" stroke-width="0.8"/>
<path d="M999.2,909.5 L1008.5,911.4 L1043.5,896.7" />
<path d="M1011,903.3 L1021.5,899 M1028.9,896 L1040.7,891" stroke-width="1"/>
<path d="M1011,906.5 L1021.5,902 M1028.9,899 L1040.7,894" stroke-width="0.8"/>
<path d="M1021.5,896.1 L1028.9,896.1 L1028.9,903.5 L1025,904.6 L1021.5,904.6 Z" fill="#fff" stroke-width="1"/>
<line x1="1024.8" y1="896.2" x2="1024.8" y2="904.6" stroke-width="0.8"/>
<line x1="972.4" y1="721.9" x2="1069.0" y2="732.1" stroke-width="1"/>
<line x1="1002.9" y1="718.0" x2="999.0" y2="753.5" stroke-width="0.9"/>
<line x1="1012.5" y1="719.1" x2="1009.1" y2="755.2" stroke-width="0.9"/>
<line x1="1044.7" y1="742.3" x2="1078.5" y2="742.3" stroke-width="1"/>
<line x1="1045.2" y1="897.8" x2="1078.5" y2="897.8" stroke-width="1"/>
<line x1="1070.6" y1="752.0" x2="1070.6" y2="888.0" stroke-width="1"/>
<line x1="1008.5" y1="913.6" x2="1025.5" y2="952.6" stroke-width="0.9"/>
<line x1="1024.9" y1="907.4" x2="1041.9" y2="945.8" stroke-width="0.9"/>
<line x1="999.5" y1="954.8" x2="1092.1" y2="915.9" stroke-width="1"/>
<path d="M1002.3,725.3 L987.7,720.9 L987.1,726.3 Z M1012.5,726.2 L1027.1,730.5 L1027.7,725.0 Z M1070.6,742.3 L1067.8,757.8 L1073.4,757.8 Z M1070.6,897.8 L1073.4,882.3 L1067.8,882.3 Z M1023.6,945.6 L1008.6,948.4 L1010.6,953.5 Z M1040.5,938.6 L1055.3,935.1 L1053.1,930.0 Z" fill="#000" stroke="none"/>
</g>
<g stroke="none" font-size="21">
<text transform="translate(1044.3,726.8) rotate(3) skewX(-5)"> 9</text>
<text transform="translate(1076.1,802.4) rotate(90)" font-size="21.5"> 55</text>
<text transform="translate(1066,921.5) rotate(-22)">32</text>
<text x="916.3" y="746" font-size="38.5">3</text>
</g>
<!-- /D3 -->
<!-- D4 -->
<g id="detail4" stroke="#000" stroke-width="1.1">
<rect x="903.4" y="994.4" width="278.2" height="284.4" stroke="#111" stroke-width="1.6"/>
<path d="M959.7,1053.4 Q954.5,1122 960,1191.3" stroke-width="1.1"/>
<path d="M961.8,1054.5 Q956.8,1122 961.5,1189.5" stroke-width="1" stroke="#333"/>
<path d="M959.7,1053.3 L990,1053.3" stroke-width="1.2"/>
<path d="M961.8,1054.8 L988.2,1054.8" stroke-width="0.8" stroke="#444"/>
<path d="M988.3,1054.8 L988.3,1092 M990,1053.3 L990,1094 L985,1101.5" stroke-width="1.1"/>
<circle cx="981.3" cy="1093.3" r="7.1" fill="#fff" stroke-width="1.2"/>
<path d="M975.3,1092 L987.2,1089.8 M975.3,1095.8 L987.2,1093.2" stroke-width="1.1"/>
<path d="M986.2,1089 L990,1094" stroke-width="1"/>
<line x1="984.6" y1="1101.5" x2="984.6" y2="1140.5" stroke="#333" stroke-width="1.4"/>
<circle cx="981.7" cy="1147.6" r="7.1" fill="#fff" stroke-width="1.2"/>
<path d="M975.7,1146.6 L987.6,1144.2 M975.7,1150.4 L987.6,1148" stroke-width="1.1"/>
<path d="M984.6,1139.5 L996.1,1151.2 L1009.5,1151.2 L1018.3,1143.2 L1019.7,1138.3 L1022.8,1138.3 L1022.8,1156.1 L984.2,1156.1" stroke-width="1.1"/>
<path d="M998,1150.5 L1017.8,1142.5" stroke-width="0.9"/>
<line x1="984.4" y1="1156" x2="984.4" y2="1191.3" stroke="#333" stroke-width="1.4"/>
<path d="M960,1191.3 L985.2,1191.3" stroke-width="1.3"/>
<path d="M961,1190.5 L983.5,1184" stroke-width="0.8"/>
<line x1="959.7" y1="1053.2" x2="1108.6" y2="1015.1" stroke-width="1"/>
<line x1="990.0" y1="1053.2" x2="1106.8" y2="1024.1" stroke-width="1"/>
<line x1="990.4" y1="1094.0" x2="1102.7" y2="1061.8" stroke-width="1"/>
<line x1="985.0" y1="1102.4" x2="1102.7" y2="1069.0" stroke-width="1"/>
<line x1="984.6" y1="1138.8" x2="1103.8" y2="1104.9" stroke-width="1"/>
<line x1="1022.8" y1="1138.3" x2="1105.0" y2="1113.8" stroke-width="1"/>
<line x1="1022.8" y1="1156.1" x2="1107.4" y2="1129.4" stroke-width="1"/>
<line x1="985.2" y1="1191.3" x2="1112.8" y2="1148.5" stroke-width="1"/>
<path d="M1112.8,1000.8 Q1088,1080 1126.6,1181.5" stroke-width="1"/>
<g stroke-width="1">
<line x1="929.4" y1="1021.0" x2="1021.0" y2="1021.0"/>
<line x1="959.4" y1="1013.2" x2="959.4" y2="1050.6" stroke-width="0.9"/>
<line x1="990.3" y1="1013.2" x2="990.3" y2="1050.0" stroke-width="0.9"/>
<line x1="927.4" y1="1053.9" x2="955.8" y2="1053.9"/>
<line x1="927.1" y1="1191.4" x2="956.1" y2="1191.4"/>
<line x1="934.5" y1="1060.0" x2="934.5" y2="1185.0"/>
<line x1="929.4" y1="1217.8" x2="1015.7" y2="1217.8"/>
<line x1="959.4" y1="1194.8" x2="959.4" y2="1225.8" stroke-width="0.9"/>
<line x1="985.3" y1="1194.8" x2="985.3" y2="1225.8" stroke-width="0.9"/>
<line x1="953.7" y1="1148.0" x2="953.7" y2="1274.2" stroke-width="0.9"/>
<line x1="1022.7" y1="1160.3" x2="1022.7" y2="1274.2" stroke-width="0.9"/>
<line x1="953.5" y1="1266.5" x2="1023.2" y2="1266.5"/>
</g>
<path d="M959.4,1021.0 L943.9,1018.2 L943.9,1023.8 Z M990.3,1021.0 L1005.8,1023.8 L1005.8,1018.2 Z M934.5,1053.9 L931.4,1069.4 L937.6,1069.4 Z M934.5,1191.4 L937.6,1175.9 L931.4,1175.9 Z M959.4,1217.8 L943.9,1214.8 L943.9,1220.8 Z M985.2,1217.8 L1000.7,1220.8 L1000.7,1214.8 Z M953.5,1266.5 L969.7,1269.6 L969.7,1263.4 Z M1023.2,1266.5 L1007.0,1263.4 L1007.0,1269.6 Z" fill="#000" stroke="none"/>
</g>
<g stroke="none" font-size="20.6">
<text x="970.8" y="1016.5">9</text>
<text x="967.9" y="1213.9">8</text>
<text x="976.8" y="1262.7" font-size="21.5"> 8</text>
<text transform="translate(931.9,1134.2) rotate(-90)" font-size="21.5">45</text>
<text x="1150.2" y="1030.1" font-size="41">4</text>
</g>
<!-- /D4 -->
<!-- TABLE -->
<g id="table" stroke="#000" stroke-width="1.5">
<rect x="120" y="1415.5" width="1001" height="280"/>
<line x1="430" y1="1415.5" x2="430" y2="1695.5"/>
<line x1="744.5" y1="1415.5" x2="744.5" y2="1695.5"/>
<line x1="120" y1="1502" x2="1121" y2="1502"/>
<line x1="120" y1="1551" x2="1121" y2="1551"/>
<line x1="120" y1="1599.5" x2="1121" y2="1599.5"/>
<line x1="120" y1="1647.5" x2="1121" y2="1647.5"/>
</g>
<g font-size="34" stroke="none" text-anchor="middle">
<text transform="translate(278.0,1466.8) scale(1,1.035)">Артикул</text>
<text transform="translate(589.2,1447.0) scale(1,1.035)">Условный размер</text>
<text transform="translate(590.5,1487.5) scale(1,1.035)">AxB, мм</text>
<text transform="translate(934.2,1447.0) scale(1,1.035)">Монтажный размер</text>
<text transform="translate(936.0,1487.0) scale(1,1.035)">XxY,  мм</text>
<text transform="translate(275.0,1535.0) scale(1,1.035)">RV 0- 0080-0 -C5</text>
<text transform="translate(588.0,1535.0) scale(1,1.035)"> 000x800</text>
<text transform="translate(934.2,1535.0) scale(1,1.035)">(980- 000)x(780-800)</text>
<text transform="translate(275.0,1584.0) scale(1,1.035)">RV 0- 0090-0 -C5</text>
<text transform="translate(588.0,1584.0) scale(1,1.035)"> 000x900</text>
<text transform="translate(934.2,1584.0) scale(1,1.035)">(980- 000)x(880-900)</text>
<text transform="translate(275.0,1632.0) scale(1,1.035)">RV 0- 2080-0 -C5</text>
<text transform="translate(588.0,1632.0) scale(1,1.035)"> 200x800</text>
<text transform="translate(934.2,1632.0) scale(1,1.035)">(  80- 200)x(780-800)</text>
<text transform="translate(275.0,1680.0) scale(1,1.035)">RV 0- 2090-0 -C5</text>
<text transform="translate(588.0,1680.0) scale(1,1.035)"> 200x900</text>
<text transform="translate(934.2,1680.0) scale(1,1.035)">(  80- 200)x(880-900)</text>
</g>
<g id="ones" fill="#000" stroke="none">
<path transform="matrix(0.01891,0.00000,0.00000,-0.01914,1143.14,66.80)" d="M763,0 L583,0 L583,1102 Q518,1042 411,982 Q305,922 223,892 L223,1059 Q374,1128 487,1226 Q600,1322 646,1409 L763,1409 Z"/>
<path transform="matrix(0.00000,-0.02038,-0.02163,0.00000,110.60,480.30)" d="M763,0 L583,0 L583,1102 Q518,1042 411,982 Q305,922 223,892 L223,1059 Q374,1128 487,1226 Q600,1322 646,1409 L763,1409 Z"/>
<path transform="matrix(0.01221,0.00000,0.00000,-0.01221,159.00,781.50)" d="M763,0 L583,0 L583,1102 Q518,1042 411,982 Q305,922 223,892 L223,1059 Q374,1128 487,1226 Q600,1322 646,1409 L763,1409 Z"/>
<path transform="matrix(0.01281,-0.00710,-0.00710,-0.01281,994.58,134.42)" d="M763,0 L583,0 L583,1102 Q518,1042 411,982 Q305,922 223,892 L223,1059 Q374,1128 487,1226 Q600,1322 646,1409 L763,1409 Z"/>
<path transform="matrix(0.01269,-0.00732,-0.00732,-0.01269,1145.50,265.00)" d="M763,0 L583,0 L583,1102 Q518,1042 411,982 Q305,922 223,892 L223,1059 Q374,1128 487,1226 Q600,1322 646,1409 L763,1409 Z"/>
<path transform="matrix(0.01855,0.00000,0.00000,-0.01855,915.80,346.50)" d="M763,0 L583,0 L583,1102 Q518,1042 411,982 Q305,922 223,892 L223,1059 Q374,1128 487,1226 Q600,1322 646,1409 L763,1409 Z"/>
<path transform="matrix(0.01269,0.00732,0.00732,-0.01269,902.30,527.50)" d="M763,0 L583,0 L583,1102 Q518,1042 411,982 Q305,922 223,892 L223,1059 Q374,1128 487,1226 Q600,1322 646,1409 L763,1409 Z"/>
<path transform="matrix(0.01024,0.00054,0.00143,-0.01019,1044.30,726.80)" d="M763,0 L583,0 L583,1102 Q518,1042 411,982 Q305,922 223,892 L223,1059 Q374,1128 487,1226 Q600,1322 646,1409 L763,1409 Z"/>
<path transform="matrix(0.00000,0.01050,0.01050,0.00000,1076.10,802.40)" d="M763,0 L583,0 L583,1102 Q518,1042 411,982 Q305,922 223,892 L223,1059 Q374,1128 487,1226 Q600,1322 646,1409 L763,1409 Z"/>
<path transform="matrix(0.01050,0.00000,0.00000,-0.01050,976.80,1262.70)" d="M763,0 L583,0 L583,1102 Q518,1042 411,982 Q305,922 223,892 L223,1059 Q374,1128 487,1226 Q600,1322 646,1409 L763,1409 Z"/>
<path transform="matrix(0.01660,0.00000,0.00000,-0.01718,174.51,1535.00)" d="M763,0 L583,0 L583,1102 Q518,1042 411,982 Q305,922 223,892 L223,1059 Q374,1128 487,1226 Q600,1322 646,1409 L763,1409 Z"/>
<path transform="matrix(0.01660,0.00000,0.00000,-0.01718,223.64,1535.00)" d="M763,0 L583,0 L583,1102 Q518,1042 411,982 Q305,922 223,892 L223,1059 Q374,1128 487,1226 Q600,1322 646,1409 L763,1409 Z"/>
<path transform="matrix(0.01660,0.00000,0.00000,-0.01718,348.39,1535.00)" d="M763,0 L583,0 L583,1102 Q518,1042 411,982 Q305,922 223,892 L223,1059 Q374,1128 487,1226 Q600,1322 646,1409 L763,1409 Z"/>
<path transform="matrix(0.01660,0.00000,0.00000,-0.01718,513.33,1535.00)" d="M763,0 L583,0 L583,1102 Q518,1042 411,982 Q305,922 223,892 L223,1059 Q374,1128 487,1226 Q600,1322 646,1409 L763,1409 Z"/>
<path transform="matrix(0.01660,0.00000,0.00000,-0.01718,848.20,1535.00)" d="M763,0 L583,0 L583,1102 Q518,1042 411,982 Q305,922 223,892 L223,1059 Q374,1128 487,1226 Q600,1322 646,1409 L763,1409 Z"/>
<path transform="matrix(0.01660,0.00000,0.00000,-0.01718,174.51,1584.00)" d="M763,0 L583,0 L583,1102 Q518,1042 411,982 Q305,922 223,892 L223,1059 Q374,1128 487,1226 Q600,1322 646,1409 L763,1409 Z"/>
<path transform="matrix(0.01660,0.00000,0.00000,-0.01718,223.64,1584.00)" d="M763,0 L583,0 L583,1102 Q518,1042 411,982 Q305,922 223,892 L223,1059 Q374,1128 487,1226 Q600,1322 646,1409 L763,1409 Z"/>
<path transform="matrix(0.01660,0.00000,0.00000,-0.01718,348.39,1584.00)" d="M763,0 L583,0 L583,1102 Q518,1042 411,982 Q305,922 223,892 L223,1059 Q374,1128 487,1226 Q600,1322 646,1409 L763,1409 Z"/>
<path transform="matrix(0.01660,0.00000,0.00000,-0.01718,513.33,1584.00)" d="M763,0 L583,0 L583,1102 Q518,1042 411,982 Q305,922 223,892 L223,1059 Q374,1128 487,1226 Q600,1322 646,1409 L763,1409 Z"/>
<path transform="matrix(0.01660,0.00000,0.00000,-0.01718,848.20,1584.00)" d="M763,0 L583,0 L583,1102 Q518,1042 411,982 Q305,922 223,892 L223,1059 Q374,1128 487,1226 Q600,1322 646,1409 L763,1409 Z"/>
<path transform="matrix(0.01660,0.00000,0.00000,-0.01718,174.51,1632.00)" d="M763,0 L583,0 L583,1102 Q518,1042 411,982 Q305,922 223,892 L223,1059 Q374,1128 487,1226 Q600,1322 646,1409 L763,1409 Z"/>
<path transform="matrix(0.01660,0.00000,0.00000,-0.01718,223.64,1632.00)" d="M763,0 L583,0 L583,1102 Q518,1042 411,982 Q305,922 223,892 L223,1059 Q374,1128 487,1226 Q600,1322 646,1409 L763,1409 Z"/>
<path transform="matrix(0.01660,0.00000,0.00000,-0.01718,348.39,1632.00)" d="M763,0 L583,0 L583,1102 Q518,1042 411,982 Q305,922 223,892 L223,1059 Q374,1128 487,1226 Q600,1322 646,1409 L763,1409 Z"/>
<path transform="matrix(0.01660,0.00000,0.00000,-0.01718,513.33,1632.00)" d="M763,0 L583,0 L583,1102 Q518,1042 411,982 Q305,922 223,892 L223,1059 Q374,1128 487,1226 Q600,1322 646,1409 L763,1409 Z"/>
<path transform="matrix(0.01660,0.00000,0.00000,-0.01718,770.71,1632.00)" d="M763,0 L583,0 L583,1102 Q518,1042 411,982 Q305,922 223,892 L223,1059 Q374,1128 487,1226 Q600,1322 646,1409 L763,1409 Z"/>
<path transform="matrix(0.01660,0.00000,0.00000,-0.01718,789.61,1632.00)" d="M763,0 L583,0 L583,1102 Q518,1042 411,982 Q305,922 223,892 L223,1059 Q374,1128 487,1226 Q600,1322 646,1409 L763,1409 Z"/>
<path transform="matrix(0.01660,0.00000,0.00000,-0.01718,857.64,1632.00)" d="M763,0 L583,0 L583,1102 Q518,1042 411,982 Q305,922 223,892 L223,1059 Q374,1128 487,1226 Q600,1322 646,1409 L763,1409 Z"/>
<path transform="matrix(0.01660,0.00000,0.00000,-0.01718,174.51,1680.00)" d="M763,0 L583,0 L583,1102 Q518,1042 411,982 Q305,922 223,892 L223,1059 Q374,1128 487,1226 Q600,1322 646,1409 L763,1409 Z"/>
<path transform="matrix(0.01660,0.00000,0.00000,-0.01718,223.64,1680.00)" d="M763,0 L583,0 L583,1102 Q518,1042 411,982 Q305,922 223,892 L223,1059 Q374,1128 487,1226 Q600,1322 646,1409 L763,1409 Z"/>
<path transform="matrix(0.01660,0.00000,0.00000,-0.01718,348.39,1680.00)" d="M763,0 L583,0 L583,1102 Q518,1042 411,982 Q305,922 223,892 L223,1059 Q374,1128 487,1226 Q600,1322 646,1409 L763,1409 Z"/>
<path transform="matrix(0.01660,0.00000,0.00000,-0.01718,513.33,1680.00)" d="M763,0 L583,0 L583,1102 Q518,1042 411,982 Q305,922 223,892 L223,1059 Q374,1128 487,1226 Q600,1322 646,1409 L763,1409 Z"/>
<path transform="matrix(0.01660,0.00000,0.00000,-0.01718,770.71,1680.00)" d="M763,0 L583,0 L583,1102 Q518,1042 411,982 Q305,922 223,892 L223,1059 Q374,1128 487,1226 Q600,1322 646,1409 L763,1409 Z"/>
<path transform="matrix(0.01660,0.00000,0.00000,-0.01718,789.61,1680.00)" d="M763,0 L583,0 L583,1102 Q518,1042 411,982 Q305,922 223,892 L223,1059 Q374,1128 487,1226 Q600,1322 646,1409 L763,1409 Z"/>
<path transform="matrix(0.01660,0.00000,0.00000,-0.01718,857.64,1680.00)" d="M763,0 L583,0 L583,1102 Q518,1042 411,982 Q305,922 223,892 L223,1059 Q374,1128 487,1226 Q600,1322 646,1409 L763,1409 Z"/>
</g>
</svg>
</body></html>
